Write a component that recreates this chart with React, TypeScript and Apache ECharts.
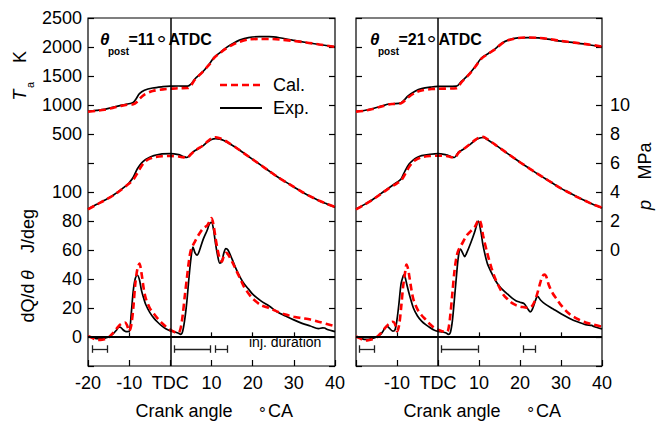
import React, { useEffect, useRef } from 'react';
import * as echarts from 'echarts';

// ---------- data (crank angle, value) ----------
// Temperature Ta [K]
const tExpLeft: [number, number][] = [[-20,890],[-18,907],[-16,924],[-14,960],[-12,993],[-10.5,1017],[-9.5,1030],[-9,1045],[-8.3,1108],[-7.5,1195],[-6.3,1253],[-4.3,1293],[-1.8,1316],[0,1326],[2,1328],[4.2,1326],[5,1360],[6,1452],[7.8,1567],[9.5,1711],[10.7,1827],[12,1900],[13.5,1985],[15.2,2060],[16.8,2118],[19,2163],[21.6,2178],[24,2178],[26.5,2160],[29.7,2118],[33,2078],[36.2,2043],[40,2003]];
const tCalLeft: [number, number][] = [[-20,885],[-18,900],[-16,918],[-14,950],[-12,985],[-10.5,1005],[-9,1012],[-8,1060],[-7.5,1105],[-6.3,1180],[-4.3,1240],[-1.8,1270],[0,1280],[2,1290],[4.2,1292],[5,1338],[6,1440],[7.8,1567],[9.5,1700],[10.7,1815],[12,1893],[13.5,1972],[15.2,2042],[16.8,2088],[19,2129],[21.6,2138],[24,2138],[26.5,2130],[29.7,2106],[33,2078],[36.2,2043],[40,2003]];
const tExpRight: [number, number][] = [[-20,890],[-18,905],[-16,936],[-14,976],[-12,1017],[-11,1022],[-9,1040],[-7.3,1155],[-5.6,1236],[-4,1282],[-1.6,1310],[0,1320],[4.5,1326],[5.7,1407],[7.3,1510],[9,1654],[10.6,1810],[12.2,1885],[13.8,1960],[15.4,2057],[17.1,2118],[19.5,2157],[21.9,2163],[24.4,2158],[26.8,2135],[30,2100],[33.3,2072],[36.5,2043],[40,2003]];
const tCalRight: [number, number][] = [[-20,885],[-18,900],[-16,930],[-14,970],[-12,1010],[-11,1018],[-9,1030],[-7.3,1130],[-5.6,1210],[-4,1250],[-1.6,1275],[0,1280],[4.5,1290],[5.7,1390],[7.3,1505],[9,1650],[10.6,1800],[12.2,1880],[13.8,1955],[15.4,2050],[17.1,2115],[19.5,2155],[21.9,2163],[24.4,2158],[26.8,2140],[30,2105],[33.3,2075],[36.5,2045],[40,2008]];

// Cylinder pressure p [MPa]
const pExpLeft: [number, number][] = [[-20,2.82],[-18,3.13],[-16,3.43],[-14,3.75],[-12,4.16],[-10.5,4.49],[-10,4.63],[-9,5.02],[-8,5.6],[-7,6.0],[-6,6.24],[-5,6.4],[-4,6.51],[-2,6.63],[0,6.65],[2,6.58],[3,6.47],[4,6.38],[5,6.63],[6,6.86],[8,7.2],[9,7.44],[10,7.62],[11,7.68],[12,7.65],[13,7.55],[14,7.4],[16,7.05],[18,6.65],[20,6.25],[22,5.85],[24,5.45],[26,5.05],[28,4.7],[30,4.35],[32,4.0],[34,3.7],[36,3.42],[38,3.18],[40,2.95]];
const pCalLeft: [number, number][] = [[-20,2.8],[-18,3.12],[-16,3.42],[-14,3.74],[-12,4.14],[-10,4.58],[-9,4.85],[-8,5.3],[-7,5.8],[-6,6.12],[-5,6.3],[-4,6.4],[-2,6.47],[0,6.48],[2,6.45],[3,6.4],[4,6.36],[5,6.6],[6,6.86],[8,7.22],[9,7.48],[10,7.7],[11,7.78],[12,7.7],[13,7.58],[14,7.42],[16,7.05],[18,6.65],[20,6.25],[22,5.85],[24,5.45],[26,5.05],[28,4.7],[30,4.35],[32,4.0],[34,3.7],[36,3.42],[38,3.18],[40,2.97]];
const pExpRight: [number, number][] = [[-20,2.82],[-18,3.13],[-16,3.47],[-14,3.87],[-12,4.28],[-10,4.67],[-9,4.9],[-8,5.48],[-7,5.94],[-6,6.22],[-5,6.4],[-4,6.51],[-2,6.6],[0,6.65],[2,6.56],[3,6.47],[4,6.38],[5,6.75],[6,6.91],[8,7.32],[9,7.55],[10,7.71],[11,7.76],[12,7.62],[14,7.25],[16,6.85],[18,6.45],[20,6.05],[22,5.68],[24,5.3],[26,4.95],[28,4.6],[30,4.25],[32,3.95],[34,3.65],[36,3.38],[38,3.12],[40,2.9]];
const pCalRight: [number, number][] = [[-20,2.8],[-18,3.12],[-16,3.45],[-14,3.85],[-12,4.25],[-10,4.6],[-9,4.8],[-8,5.25],[-7,5.75],[-6,6.1],[-5,6.28],[-4,6.4],[-2,6.48],[0,6.5],[2,6.48],[3,6.42],[4,6.36],[5,6.7],[6,6.92],[8,7.34],[9,7.58],[10,7.75],[11,7.8],[12,7.65],[14,7.25],[16,6.85],[18,6.45],[20,6.05],[22,5.68],[24,5.3],[26,4.95],[28,4.6],[30,4.25],[32,3.95],[34,3.65],[36,3.38],[38,3.12],[40,2.92]];

// Heat release rate dQ/dθ [J/deg]
const qExpLeft: [number, number][] = [[-20,0.5],[-19,0],[-18,-1.2],[-17,-1.2],[-16,-0.8],[-15,0],[-14,2],[-13,5],[-12.5,7],[-12,6.5],[-11.5,5],[-11,4],[-10.5,3.7],[-10,3.8],[-9.5,16],[-9,32],[-8.5,40.5],[-8,42.6],[-7.5,39.5],[-7,32],[-6.5,27],[-6,22.6],[-5,17],[-4,13],[-3,10],[-2,7.5],[-1,5.5],[0,4.2],[1,3.6],[2,2.6],[2.5,1.8],[3,4],[3.5,12],[4,24],[4.5,40],[5,54],[5.5,62],[6,58],[6.5,56.5],[7,59],[8,67.5],[9,74],[9.5,78],[10,79],[10.5,74],[11,64],[11.5,56],[12,51],[12.5,52],[13,58],[13.5,61],[14,60],[15,53.7],[16,46.8],[17,41],[18,36.4],[19,33],[20,29.5],[22,24.9],[24,21.4],[26,17.3],[28,14.5],[30,11.8],[32,9.4],[34,7.6],[36,5.8],[37,6.3],[37.5,6.2],[38,5.3],[40,3.7]];
const qCalLeft: [number, number][] = [[-20,0.5],[-19,-0.5],[-18,-2],[-17,-2],[-16,-1.5],[-15,-0.3],[-14,2.5],[-13,6],[-12,9],[-11,10],[-10.5,8],[-10,4],[-9.5,8],[-9,20],[-8.5,37],[-8,47],[-7.5,50.7],[-7,44],[-6.5,34],[-6,27],[-5,20],[-4,16],[-3,12.5],[-2,9.5],[-1,7],[0,5],[1,3.5],[2,3],[2.5,6],[3,15],[3.5,28],[4,40],[4.5,52],[5,60],[6,66],[7,71],[8,75],[9,77],[10,82],[10.5,77],[11,68],[11.5,60],[12,54],[12.5,52],[13,56],[13.5,58],[14,57],[15,52],[16,46],[17,40],[18,34],[19,30],[20,26.5],[22,22],[24,20],[26,17.5],[28,15.5],[30,14],[32,13],[34,12],[36,10.5],[38,9],[40,7.5]];
const qExpRight: [number, number][] = [[-20,0],[-19,-0.5],[-18,-1.6],[-17,-1.6],[-16,-1],[-15,0],[-14,1.8],[-13,5.8],[-12.5,7.6],[-12,6.5],[-11,4],[-10.5,4.8],[-10,12],[-9.5,23.7],[-9,37],[-8.5,42],[-8.3,42.9],[-8,41],[-7.5,35],[-7,29.5],[-6,20],[-5,14.5],[-4,11],[-3,8.5],[-2,6.5],[-1,4.8],[0,3.9],[1,3.5],[2,2.8],[2.5,1.8],[3,3],[3.5,11],[4,26],[4.5,42],[5,56],[5.5,60.6],[6,58],[6.5,55.5],[7,58],[8,65],[9,73],[9.5,78],[9.8,80],[10.5,72],[11,63],[12,51],[13,44.5],[14,39],[15,35],[16,32],[17,29.5],[18,27],[19,25],[20,24],[21,23],[22,19],[22.5,17.3],[23,19],[24,27],[24.3,28],[25,25.5],[26,23],[28,19.5],[30,16],[32,13],[34,10.5],[36,8.5],[37.5,8],[38,7.2],[40,5.5]];
const qCalRight: [number, number][] = [[-20,0.5],[-19,-1],[-18,-2.5],[-17,-2.2],[-16,-1.5],[-15,-0.3],[-14,2.5],[-13,6],[-12,9],[-11,10.5],[-10.5,9],[-10,4],[-9.5,8],[-9,20],[-8.5,35],[-8,45],[-7.7,50],[-7.3,47],[-7,42],[-6.5,33],[-6,26],[-5,19],[-4,15],[-3,12],[-2,9],[-1,6.5],[0,5],[1,4],[2,3.5],[2.5,5],[3,15],[3.5,30],[4,45],[4.5,55],[5,60],[6,65],[7,70],[8,73],[9,76],[10,81],[10.5,78],[11,70],[12,58],[13,48],[14,40],[15,34],[16,29],[17,26],[18,23.5],[19,22],[20,21],[21,20.5],[22,20],[23,21.5],[24,28],[25,38],[25.5,42],[26,43],[26.5,41],[27,36],[28,30],[29,26],[30,22],[32,16],[34,12.5],[36,10],[38,8.5],[40,7]];

// Injection durations (start, end) in crank angle
const injLeft: [number, number][] = [[-18.9, -15.3], [1, 9.7], [10.9, 13.9]];
const injRight: [number, number][] = [[-19.1, -15.45], [0.85, 9.7], [20.9, 23.7]];
const injLevel = -8.3;
const injCap = 2.6;

// ticks drawn on the dQ/dθ = 0 line
const zeroTicks = [-10, 10, 20, 30];
const zeroTickLen = 3.2;

const titles = ['=11', '=21'];

// ---------- styling ----------
const FONT = '"Liberation Sans", Arial, Helvetica, sans-serif';
const RED = '#ff0000';
const BLACK = '#000000';

function refLines(inj: [number, number][]) {
  const data: any[] = [
    [{ coord: [0, -20] }, { coord: [0, 220] }],
    [{ coord: [-20, 0], lineStyle: { width: 1.8 } }, { coord: [40, 0] }],
  ];
  zeroTicks.forEach((t) => {
    data.push([{ coord: [t, 0], lineStyle: { width: 1.2 } }, { coord: [t, zeroTickLen] }]);
  });
  inj.forEach(([a, b]) => {
    const ls = { width: 1.3, color: '#222222' };
    data.push([{ coord: [a, injLevel], lineStyle: ls }, { coord: [b, injLevel] }]);
    data.push([{ coord: [a, injLevel - injCap], lineStyle: ls }, { coord: [a, injLevel + injCap] }]);
    data.push([{ coord: [b, injLevel - injCap], lineStyle: ls }, { coord: [b, injLevel + injCap] }]);
  });
  return {
    silent: true,
    symbol: ['none', 'none'],
    label: { show: false },
    emphasis: { disabled: true },
    lineStyle: { color: BLACK, type: 'solid', width: 1.5 },
    animation: false,
    data,
  };
}

function line(data: [number, number][], xi: number, yi: number, cal: boolean, extra: any = {}) {
  return {
    type: 'line',
    data,
    xAxisIndex: xi,
    yAxisIndex: yi,
    showSymbol: false,
    symbol: 'none',
    smooth: 0.3,
    silent: true,
    z: cal ? 4 : 3,
    lineStyle: cal ? { color: RED, width: 2.6, type: [7, 4] } : { color: BLACK, width: 1.7 },
    itemStyle: { color: cal ? RED : BLACK },
    ...extra,
  };
}

const tick = { show: true, inside: true, length: 6, lineStyle: { color: BLACK, width: 1.2 } };
const labelBase = { color: BLACK, fontSize: 18, fontFamily: FONT };

function xAxis(gi: number, showFirst: boolean) {
  return {
    type: 'value',
    gridIndex: gi,
    min: -20,
    max: 40,
    interval: 10,
    position: 'bottom',
    axisLine: { show: false, onZero: false },
    splitLine: { show: false },
    axisTick: tick,
    axisLabel: {
      ...labelBase,
      margin: 8,
      formatter: (v: number) => (v === 0 ? 'TDC' : !showFirst && v === -20 ? '' : String(v)),
    },
  };
}

function yAxis(gi: number, pos: string, min: number, max: number, interval: number, fmt: ((v: number) => string) | null, showTick: boolean, margin: number) {
  return {
    type: 'value',
    gridIndex: gi,
    position: pos,
    min,
    max,
    interval,
    axisLine: { show: false, onZero: false },
    splitLine: { show: false },
    axisTick: showTick ? tick : { show: false },
    axisLabel: fmt ? { ...labelBase, margin, formatter: fmt } : { show: false },
  };
}

const fmtT = (v: number) => (v >= 500 ? String(v) : '');
const fmtQ = (v: number) => (v >= 0 && v <= 100 ? String(v) : '');
const fmtP = (v: number) => (v >= 0 && v <= 10 ? String(v) : '');

function txt(x: number, y: number, text: string, o: any = {}) {
  const align = o.align || 'left';
  const va = o.va || 'middle';
  return {
    type: 'text',
    x,
    y,
    rotation: o.rot || 0,
    silent: true,
    z: 10,
    style: {
      text,
      x: 0,
      y: 0,
      fill: BLACK,
      fontSize: o.size || 18,
      fontFamily: FONT,
      fontWeight: o.weight || 'normal',
      fontStyle: o.style || 'normal',
      align,
      verticalAlign: va,
      textAlign: align,
      textVerticalAlign: va,
    },
  };
}

function titleGroup(x0: number, num: string) {
  return [
    txt(x0, 39, 'θ', { size: 17, weight: 'bold', style: 'italic' }),
    txt(x0 + 8, 51, 'post', { size: 10, weight: 'bold' }),
    txt(x0 + 28.5, 39, num, { size: 16, weight: 'bold' }),
    txt(x0 + 56.8, 43.8, '°', { size: 24 }),
    txt(x0 + 68.5, 39, 'ATDC', { size: 16, weight: 'bold' }),
  ];
}

function crankTitle(cx: number, degX: number, caX: number) {
  return [
    txt(cx, 411, 'Crank angle', { align: 'center' }),
    txt(degX, 413.3, '°', { size: 17 }),
    txt(caX, 411, 'CA'),
  ];
}

const R = Math.PI / 2;

const option: any = {
  animation: false,
  backgroundColor: '#ffffff',
  grid: [
    { left: 88, top: 18, width: 247, height: 348, show: true, borderColor: BLACK, borderWidth: 1.2, backgroundColor: 'transparent' },
    { left: 356, top: 18, width: 246, height: 348, show: true, borderColor: BLACK, borderWidth: 1.2, backgroundColor: 'transparent' },
  ],
  xAxis: [xAxis(0, true), xAxis(1, false)],
  yAxis: [
    yAxis(0, 'left', -3500, 2500, 500, fmtT, true, 6),
    yAxis(0, 'left', -20, 220, 20, fmtQ, false, 6),
    yAxis(0, 'right', -8, 16, 2, null, true, 8),
    yAxis(1, 'left', -3500, 2500, 500, null, true, 6),
    yAxis(1, 'left', -20, 220, 20, null, false, 6),
    yAxis(1, 'right', -8, 16, 2, fmtP, true, 8),
  ],
  series: [
    line(qExpLeft, 0, 1, false, { markLine: refLines(injLeft) }),
    line(tExpLeft, 0, 0, false),
    line(pExpLeft, 0, 2, false),
    line(tCalLeft, 0, 0, true),
    line(pCalLeft, 0, 2, true),
    line(qCalLeft, 0, 1, true),
    line(qExpRight, 1, 4, false, { markLine: refLines(injRight) }),
    line(tExpRight, 1, 3, false),
    line(pExpRight, 1, 5, false),
    line(tCalRight, 1, 3, true),
    line(pCalRight, 1, 5, true),
    line(qCalRight, 1, 4, true),
  ],
  graphic: [
    ...titleGroup(100, titles[0]),
    ...titleGroup(370, titles[1]),
    // legend
    { type: 'line', silent: true, z: 10, shape: { x1: 220, y1: 85, x2: 261, y2: 85 }, style: { stroke: RED, lineWidth: 2.6, lineDash: [7, 4] } },
    { type: 'line', silent: true, z: 10, shape: { x1: 220, y1: 108, x2: 262, y2: 108 }, style: { stroke: BLACK, lineWidth: 1.8 } },
    txt(273, 85, 'Cal.'),
    txt(273, 108, 'Exp.'),
    // injection label
    txt(249, 342, 'inj. duration', { size: 14 }),
    // y-axis names (left)
    txt(20, 95, 'T', { align: 'center', rot: R, style: 'italic' }),
    txt(30, 85, 'a', { align: 'center', rot: R, size: 11 }),
    txt(20, 57, 'K', { align: 'center', rot: R }),
    txt(28, 303, 'dQ/d', { align: 'center', rot: R }),
    txt(28, 275, 'θ', { align: 'center', rot: R, style: 'italic' }),
    txt(28, 231, 'J/deg', { align: 'center', rot: R }),
    // y-axis name (right)
    txt(645, 205, 'p', { align: 'center', rot: R, style: 'italic' }),
    txt(645, 161, 'MPa', { align: 'center', rot: R }),
    // x-axis names
    ...crankTitle(184, 259, 268),
    ...crankTitle(452, 527.3, 536),
  ],
};

export default function App() {
  const ref = useRef<HTMLDivElement>(null);
  useEffect(() => {
    const chart = echarts.init(ref.current as HTMLDivElement, undefined, { renderer: 'svg' });
    chart.setOption(option);
    return () => chart.dispose();
  }, []);
  return <div ref={ref} style={{ position: 'fixed', left: 0, top: 0, width: 664, height: 423 }} />;
}
